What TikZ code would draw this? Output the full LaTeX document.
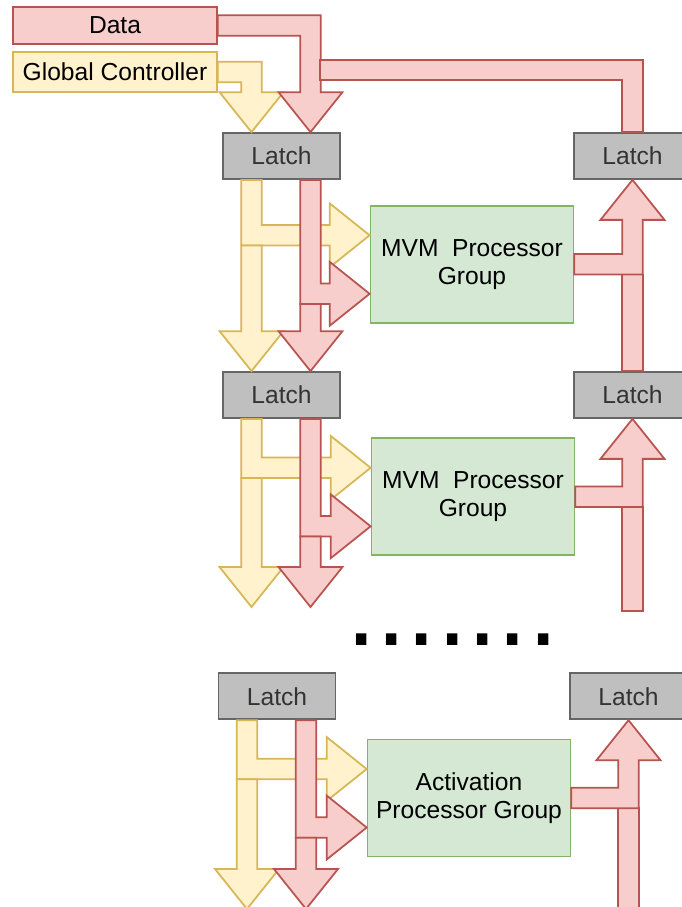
\documentclass[tikz,border=0pt]{standalone}
\usepackage{fontspec}
\setmainfont{Liberation Sans}
\usetikzlibrary{calc}

\definecolor{redfill}{HTML}{F8CECC}
\definecolor{redline}{HTML}{B85450}
\definecolor{ylwfill}{HTML}{FFF2CC}
\definecolor{ylwline}{HTML}{D6B656}
\definecolor{grnfill}{HTML}{D5E8D4}
\definecolor{grnline}{HTML}{82B366}
\definecolor{latfill}{HTML}{BFBFBF}
\definecolor{latline}{HTML}{666666}
\definecolor{lattext}{HTML}{333333}

\newlength\shaftw \setlength\shaftw{0.206cm}
\newlength\headw  \setlength\headw{0.64cm}
\newlength\headl  \setlength\headl{0.8cm}

% fat arrows, drawn as outlines
% down: y of the top from #2, tip at #3
\newcommand{\fatdown}[3]{\path[#1] let \p1=(#2), \p2=(#3) in
    (\x2-\shaftw,\y1-\shaftw) -- (\x2-\shaftw,\y2+\headl) -- (\x2-\headw,\y2+\headl) -- (\x2,\y2)
    -- (\x2+\headw,\y2+\headl) -- (\x2+\shaftw,\y2+\headl) -- (\x2+\shaftw,\y1-\shaftw) -- cycle;}
% down, then right
\newcommand{\fatdownright}[3]{\path[#1] let \p1=(#2), \p2=(#3) in
    (\x1-\shaftw,\y1) -- (\x1-\shaftw,\y2-\shaftw) -- (\x2-\headl,\y2-\shaftw) -- (\x2-\headl,\y2-\headw) -- (\x2,\y2)
    -- (\x2-\headl,\y2+\headw) -- (\x2-\headl,\y2+\shaftw) -- (\x1+\shaftw,\y2+\shaftw) -- (\x1+\shaftw,\y1) -- cycle;}
% right, then up
\newcommand{\fatrightup}[3]{\path[#1] let \p1=(#2), \p2=(#3) in
    (\x1,\y1-\shaftw) -- (\x2+\shaftw,\y1-\shaftw) -- (\x2+\shaftw,\y2-\headl) -- (\x2+\headw,\y2-\headl) -- (\x2,\y2)
    -- (\x2-\headw,\y2-\headl) -- (\x2-\shaftw,\y2-\headl) -- (\x2-\shaftw,\y1+\shaftw) -- (\x1,\y1+\shaftw) -- cycle;}
% right, then down
\newcommand{\fatrightdown}[3]{\path[#1] let \p1=(#2), \p2=(#3) in
    (\x1,\y1+\shaftw) -- (\x2+\shaftw,\y1+\shaftw) -- (\x2+\shaftw,\y2+\headl) -- (\x2+\headw,\y2+\headl) -- (\x2,\y2)
    -- (\x2-\headw,\y2+\headl) -- (\x2-\shaftw,\y2+\headl) -- (\x2-\shaftw,\y1-\shaftw) -- (\x1,\y1-\shaftw) -- cycle;}
% bar without head: from #3 up to the shaft of #2
\newcommand{\fatbar}[3]{\path[#1] let \p1=(#2), \p2=(#3) in
    (\x2-\shaftw,\y2) rectangle (\x2+\shaftw,\y1-\shaftw);}

\tikzset{
    block/.style = {
        draw,
        shape=rectangle,
        line width=1pt,
        font=\fontsize{14}{16}\selectfont
    },
    databox/.style = {
        block, draw=redline, fill=redfill,
        minimum width=4.08cm,
        minimum height=0.74cm
    },
    ctrlbox/.style = {
        block, draw=ylwline, fill=ylwfill,
        minimum width=4.08cm,
        minimum height=0.8cm
    },
    latch/.style = {
        block, draw=latline, fill=latfill, text=lattext,
        minimum width=2.34cm,
        minimum height=0.92cm
    },
    procgroup/.style = {
        block, draw=grnline, fill=grnfill, align=center,
        minimum width=4.06cm,
        minimum height=2.34cm
    },
    redarrow/.style = {draw=redline, fill=redfill, line width=1pt},
    ylwarrow/.style = {draw=ylwline, fill=ylwfill, line width=1pt},
}

\begin{document}
\begin{tikzpicture}[x=0.02cm, y=-0.02cm]
    \useasboundingbox (0,0) rectangle (682,907);
    \clip (0,0) rectangle (682,907);

    \node[databox] (data) at (115,25.5) {Data};
    \node[ctrlbox] (gctrl) at (115,72) {Global Controller};

    \node[latch] (lat1) at (281.5,156) {Latch};
    \node[latch] (latr1) at (632.5,156) {Latch};
    \node[latch] (lat2) at (281.5,395) {Latch};
    \node[latch] (latr2) at (632.5,395) {Latch};
    \node[latch] (lat3) at (277,696.3) {Latch};
    \node[latch] (latr3) at (628.5,696.3) {Latch};

    \node[procgroup] (mvm1) at (472,264.3) {MVM\ \ Processor\\Group};
    \node[procgroup] (mvm2) at (473,496.8) {MVM\ \ Processor\\Group};
    \node[procgroup] (act) at (469,798) {Activation\\Processor Group};

    \node[anchor=base west, inner sep=0pt, font=\fontsize{62}{62}\selectfont] (dots) at (346,645) {.......};

    \coordinate (split) at (320,70);
    \coordinate (ylwout2) at (251.5,607);
    \coordinate (redout2) at (310.5,607);
    \coordinate (ylwout3) at (247,909);
    \coordinate (redout3) at (306,909);
    \coordinate (back2) at (632.5,611);
    \coordinate (back3) at (628.5,930);

    % inputs
    \fatrightdown{ylwarrow}{gctrl.east}{$(lat1.north)+(-30,0)$}
    \fatrightdown{redarrow}{data.east}{$(lat1.north)+(29,0)$}
    \path[redarrow] let \p1=(split), \p2=(latr1.north) in
        (\x1,\y1+\shaftw) -- (\x2+\shaftw,\y1+\shaftw) -- (\x2+\shaftw,\y2) -- (\x2-\shaftw,\y2)
        -- (\x2-\shaftw,\y1-\shaftw) -- (\x1,\y1-\shaftw) -- cycle;

    % first MVM group
    \fatdownright{ylwarrow}{$(lat1.south)+(-30,0)$}{$(mvm1.west)+(0,-29)$}
    \fatdown{ylwarrow}{$(mvm1.west)+(0,-29)$}{$(lat2.north)+(-30,0)$}
    \fatdownright{redarrow}{$(lat1.south)+(29,0)$}{$(mvm1.west)+(0,29.5)$}
    \fatdown{redarrow}{$(mvm1.west)+(0,29.5)$}{$(lat2.north)+(29,0)$}
    \fatbar{redarrow}{mvm1.east}{latr2.north}
    \fatrightup{redarrow}{mvm1.east}{latr1.south}

    % second MVM group
    \fatdownright{ylwarrow}{$(lat2.south)+(-30,0)$}{$(mvm2.west)+(0,-29)$}
    \fatdown{ylwarrow}{$(mvm2.west)+(0,-29)$}{ylwout2}
    \fatdownright{redarrow}{$(lat2.south)+(29,0)$}{$(mvm2.west)+(0,29.5)$}
    \fatdown{redarrow}{$(mvm2.west)+(0,29.5)$}{redout2}
    \fatbar{redarrow}{mvm2.east}{back2}
    \fatrightup{redarrow}{mvm2.east}{latr2.south}

    % activation group
    \fatdownright{ylwarrow}{$(lat3.south)+(-30,0)$}{$(act.west)+(0,-29)$}
    \fatdown{ylwarrow}{$(act.west)+(0,-29)$}{ylwout3}
    \fatdownright{redarrow}{$(lat3.south)+(29,0)$}{$(act.west)+(0,29.5)$}
    \fatdown{redarrow}{$(act.west)+(0,29.5)$}{redout3}
    \fatbar{redarrow}{act.east}{back3}
    \fatrightup{redarrow}{act.east}{latr3.south}
\end{tikzpicture}
\end{document}
